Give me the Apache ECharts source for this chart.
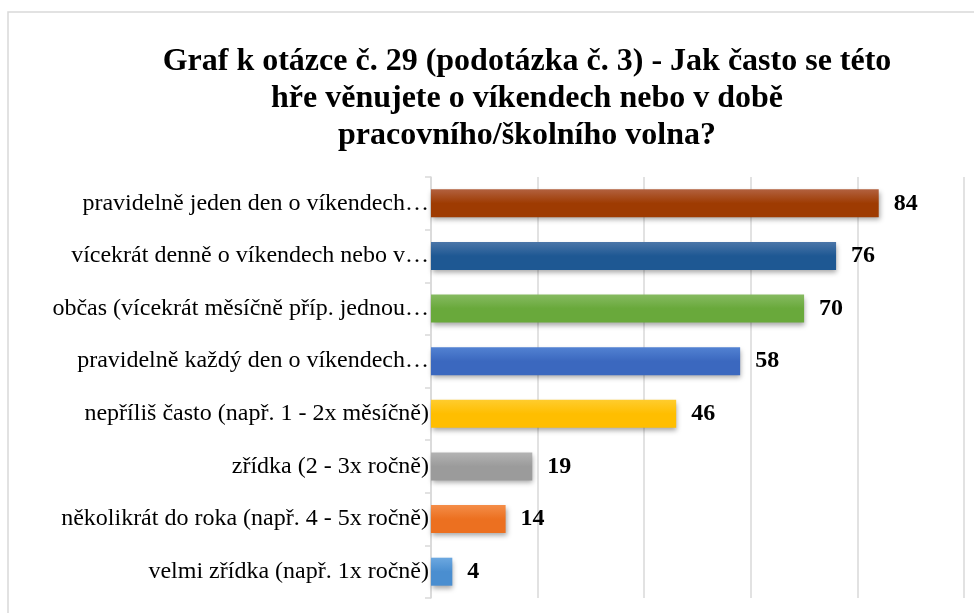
<!DOCTYPE html>
<html>
<head>
<meta charset="utf-8">
<script src="https://cdn.jsdelivr.net/npm/echarts@6/dist/echarts.min.js"></script>
<style>
  html, body { margin: 0; padding: 0; background: #fff; }
  #chart { width: 974px; height: 613px; }
</style>
</head>
<body>
<div id="chart"></div>
<script>
const titleText = 'Graf k otázce č. 29 (podotázka č. 3) - Jak často se této\nhře věnujete o víkendech nebo v době\npracovního/školního volna?';

const categories = [
  'pravidelně jeden den o víkendech…',
  'vícekrát denně o víkendech nebo v…',
  'občas (vícekrát měsíčně příp. jednou…',
  'pravidelně každý den o víkendech…',
  'nepříliš často (např. 1 - 2x měsíčně)',
  'zřídka (2 - 3x ročně)',
  'několikrát do roka (např. 4 - 5x ročně)',
  'velmi zřídka (např. 1x ročně)'
];
const values = [84, 76, 70, 58, 46, 19, 14, 4];

// [top, bottom] of each bar's gradient
const barColors = [
  ['#b2613f', '#9e3b02'],
  ['#4b76a8', '#1e5893'],
  ['#86ba61', '#69a93b'],
  ['#5282d2', '#3b68bf'],
  ['#ffcc2e', '#ffbe00'],
  ['#b3b3b3', '#9b9b9b'],
  ['#f48d48', '#ec7020'],
  ['#6ca8e0', '#4a8ed0']
];

const serif = '"Liberation Serif", "Times New Roman", serif';

var chart = echarts.init(document.getElementById('chart'));

var barData = values.map(function (v, i) {
  return {
    value: v,
    itemStyle: {
      color: new echarts.graphic.LinearGradient(0, 0, 0, 1, [
        { offset: 0, color: barColors[i][0] },
        { offset: 0.5, color: barColors[i][1] },
        { offset: 1, color: barColors[i][1] }
      ])
    }
  };
});

var option = {
  backgroundColor: '#ffffff',
  animation: false,
  graphic: [{
    type: 'rect',
    shape: { x: 8, y: 12, width: 1000, height: 700 },
    style: { fill: 'none', stroke: '#d9d9d9', lineWidth: 1.5 },
    silent: true
  }],
  title: {
    text: titleText,
    left: 522,
    top: 38,
    textAlign: 'center',
    textStyle: {
      fontFamily: serif,
      fontWeight: 'bold',
      fontSize: 32,
      lineHeight: 37,
      color: '#000'
    }
  },
  grid: {
    left: 431,
    right: 10,
    top: 177,
    bottom: 15,
    containLabel: false
  },
  xAxis: {
    type: 'value',
    min: 0,
    max: 100,
    interval: 20,
    axisLabel: { show: false },
    axisLine: { show: false },
    axisTick: { show: false },
    splitLine: { lineStyle: { color: '#d9d9d9', width: 1.5 } }
  },
  yAxis: {
    type: 'category',
    data: categories,
    inverse: true,
    axisLine: { lineStyle: { color: '#d9d9d9', width: 1.5 } },
    axisTick: { show: true, length: 6, lineStyle: { color: '#d9d9d9', width: 1.5 } },
    axisLabel: {
      margin: 2,
      fontFamily: serif,
      fontSize: 24,
      color: '#000'
    }
  },
  series: [{
    type: 'bar',
    data: barData,
    barWidth: 28,
    itemStyle: {
      shadowColor: 'rgba(0,0,0,0.35)',
      shadowBlur: 5,
      shadowOffsetX: 1,
      shadowOffsetY: 3
    },
    label: {
      show: true,
      position: 'right',
      distance: 15,
      fontFamily: serif,
      fontWeight: 'bold',
      fontSize: 24,
      color: '#000'
    }
  }]
};

chart.setOption(option);
</script>
</body>
</html>
